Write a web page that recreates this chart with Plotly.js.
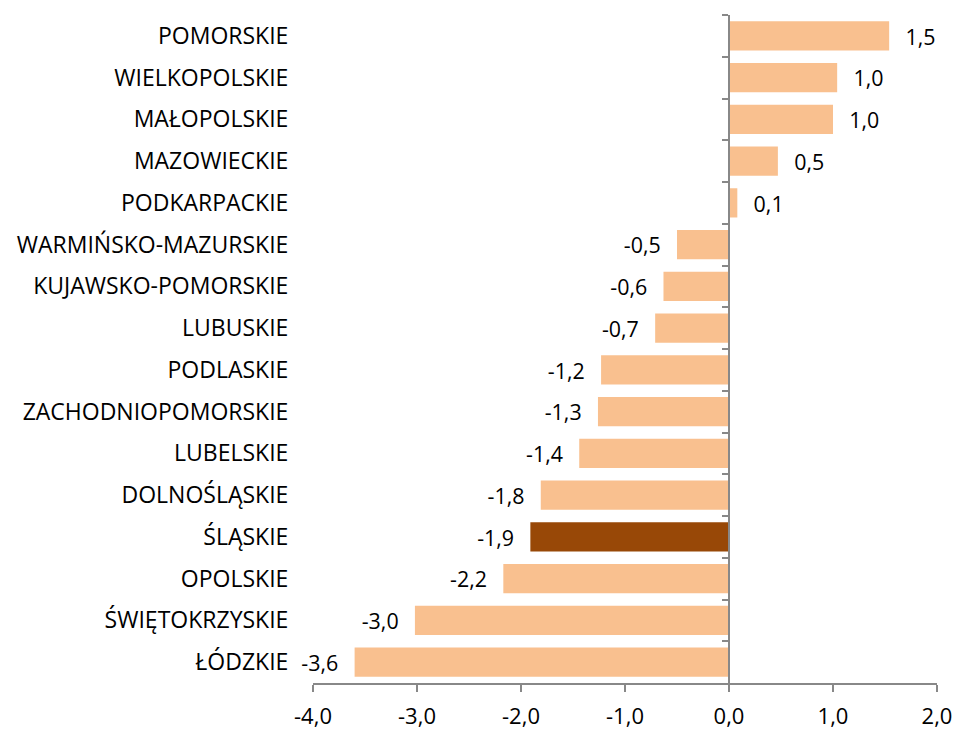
<!DOCTYPE html>
<html>
<head>
<meta charset="utf-8">
<script src="https://cdn.plot.ly/plotly-3.0.1.min.js"></script>
<style>html,body{margin:0;padding:0;background:#fff;}#chart{width:957px;height:731px;}</style>
</head>
<body>
<div id="chart"></div>
<script>
// Data (top to bottom as in the reference)
const regions = ["POMORSKIE","WIELKOPOLSKIE","MAŁOPOLSKIE","MAZOWIECKIE","PODKARPACKIE","WARMIŃSKO-MAZURSKIE","KUJAWSKO-POMORSKIE","LUBUSKIE","PODLASKIE","ZACHODNIOPOMORSKIE","LUBELSKIE","DOLNOŚLĄSKIE","ŚLĄSKIE","OPOLSKIE","ŚWIĘTOKRZYSKIE","ŁÓDZKIE"];
const values = [1.54, 1.04, 1.0, 0.47, 0.08, -0.5, -0.63, -0.71, -1.23, -1.26, -1.44, -1.81, -1.91, -2.17, -3.02, -3.6];
const labels = ["1,5","1,0","1,0","0,5","0,1","-0,5","-0,6","-0,7","-1,2","-1,3","-1,4","-1,8","-1,9","-2,2","-3,0","-3,6"];
const highlight = "ŚLĄSKIE";
const xTicks = [-4, -3, -2, -1, 0, 1, 2];
const xTickLabels = ["-4,0","-3,0","-2,0","-1,0","0,0","1,0","2,0"];

const light = "#F9C08F", dark = "#984807";
const colors = regions.map(r => r === highlight ? dark : light);
const pad = "\u00a0\u00a0\u200a";
const texts = values.map((v, i) => v >= 0 ? pad + labels[i] : labels[i] + pad);

const font = "Open Sans, Lato, sans-serif";
const bar = {
  type: "bar", orientation: "h",
  y: regions, x: values,
  marker: {color: colors},
  text: texts, textposition: "outside", cliponaxis: false,
  textfont: {family: font, size: 22, color: "#000"},
  hoverinfo: "none"
};
const ghost = {
  type: "bar", orientation: "h", y: regions, x: values.map(() => 0),
  yaxis: "y2", marker: {color: "rgba(0,0,0,0)"}, hoverinfo: "none", showlegend: false
};

const xmin = xTicks[0], xmax = xTicks[xTicks.length - 1];
const layout = {
  width: 957, height: 731,
  margin: {l: 313, r: 20, t: 15, b: 48},
  paper_bgcolor: "#fff", plot_bgcolor: "#fff",
  showlegend: false, bargap: 0.3,
  separators: ", ",
  font: {family: font, size: 22, color: "#000"},
  xaxis: {
    range: [xmin, xmax], tickvals: xTicks, ticktext: xTickLabels,
    showgrid: false, zeroline: false,
    showline: true, linecolor: "#888", linewidth: 2,
    ticks: "outside", ticklen: 7, tickcolor: "#888", tickwidth: 2,
    ticklabelstandoff: 6,
    tickfont: {family: font, size: 22, color: "#000"}
  },
  yaxis: {
    type: "category", autorange: "reversed",
    showgrid: false, zeroline: false, showline: false,
    ticks: "outside", ticklen: 19, tickcolor: "rgba(0,0,0,0)",
    tickfont: {family: font, size: 23, color: "#000"}
  },
  yaxis2: {
    type: "category", overlaying: "y", matches: "y", anchor: "free",
    position: (0 - xmin) / (xmax - xmin),
    showgrid: false, zeroline: false, showticklabels: false,
    showline: true, linecolor: "#888", linewidth: 2,
    ticks: "outside", ticklen: 6, tickcolor: "#888", tickwidth: 2,
    tickson: "boundaries"
  }
};
Plotly.newPlot("chart", [bar, ghost], layout, {displayModeBar: false, staticPlot: true});
</script>
</body>
</html>
